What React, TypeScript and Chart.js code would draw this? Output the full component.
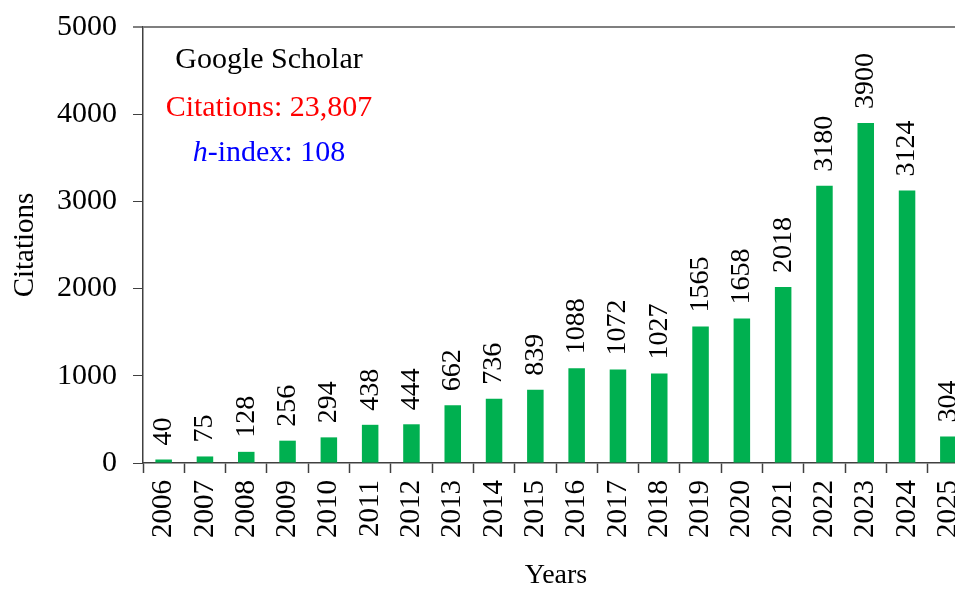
import React, { useEffect, useRef } from "react";
import { Chart, registerables } from "chart.js";

Chart.register(...registerables);

const years = ["2006", "2007", "2008", "2009", "2010", "2011", "2012", "2013", "2014", "2015", "2016", "2017", "2018", "2019", "2020", "2021", "2022", "2023", "2024", "2025"];
const citations = [40, 75, 128, 256, 294, 438, 444, 662, 736, 839, 1088, 1072, 1027, 1565, 1658, 2018, 3180, 3900, 3124, 304];
const yTickValues = [0, 1000, 2000, 3000, 4000, 5000];
const yTitle = "Citations";
const xTitle = "Years";
const noteTitle = "Google Scholar";
const noteCitations = "Citations: 23,807";
const noteHItalic = "h";
const noteHRest = "-index: 108";

const FONT = "'Liberation Serif', 'Times New Roman', serif";
const GREEN = "#00b050";

const overlayPlugin = {
  id: "overlay",
  afterDatasetsDraw(chart: any) {
    const { ctx } = chart;
    const meta = chart.getDatasetMeta(0);
    ctx.save();
    ctx.fillStyle = "#000";
    ctx.font = `28px ${FONT}`;
    meta.data.forEach((bar: any, i: number) => {
      ctx.save();
      ctx.translate(bar.x, bar.y - 14);
      ctx.rotate(-Math.PI / 2);
      ctx.textAlign = "left";
      ctx.textBaseline = "middle";
      ctx.fillText(String(citations[i]), 0, 0);
      ctx.restore();
    });
    ctx.restore();

    const xs = chart.scales.x;
    const ys = chart.scales.y;
    const cx = xs.getPixelForValue(2.55);
    ctx.save();
    ctx.textBaseline = "middle";
    ctx.textAlign = "center";
    ctx.font = `30px ${FONT}`;
    ctx.fillStyle = "#000";
    ctx.fillText(noteTitle, cx, ys.getPixelForValue(4615));
    ctx.fillStyle = "#ff0000";
    ctx.fillText(noteCitations, cx, ys.getPixelForValue(4070));
    const y3 = ys.getPixelForValue(3555);
    ctx.font = `italic 30px ${FONT}`;
    const wH = ctx.measureText(noteHItalic).width;
    ctx.font = `30px ${FONT}`;
    const wR = ctx.measureText(noteHRest).width;
    const start = cx - (wH + wR) / 2;
    ctx.textAlign = "left";
    ctx.fillStyle = "#0000ff";
    ctx.font = `italic 30px ${FONT}`;
    ctx.fillText(noteHItalic, start, y3);
    ctx.font = `30px ${FONT}`;
    ctx.fillText(noteHRest, start + wH, y3);
    ctx.restore();
  },
};

export default function App() {
  const ref = useRef<HTMLCanvasElement>(null);
  useEffect(() => {
    if (!ref.current) return;
    const chart = new Chart(ref.current, {
      type: "bar",
      data: {
        labels: years,
        datasets: [
          {
            data: citations,
            backgroundColor: GREEN,
            categoryPercentage: 0.8,
            barPercentage: 0.5,
          },
        ],
      },
      options: {
        animation: false,
        responsive: true,
        maintainAspectRatio: false,
        layout: { padding: { left: 0, top: 27, right: 21, bottom: 0 } },
        plugins: {
          legend: { display: false },
          tooltip: { enabled: false },
        },
        scales: {
          x: {
            grid: {
              offset: true,
              drawOnChartArea: false,
              tickLength: 10,
              tickColor: "#404040",
              tickWidth: 1.5,
            },
            border: { color: "#404040", width: 1.5 },
            ticks: {
              color: "#000",
              font: { family: FONT, size: 29 },
              minRotation: 90,
              maxRotation: 90,
              padding: 7,
              autoSkip: false,
            },
            title: {
              display: true,
              text: xTitle,
              color: "#000",
              font: { family: FONT, size: 28, lineHeight: 1.0 },
              padding: { top: 0, bottom: 0 },
            },
            afterFit: (s: any) => {
              s.height = 127;
              s.paddingLeft = 0;
              s.paddingRight = 0;
            },
          },
          y: {
            min: 0,
            max: 5000,
            afterBuildTicks: (s: any) => {
              s.ticks = yTickValues.map((v) => ({ value: v }));
            },
            grid: {
              drawOnChartArea: true,
              color: (c: any) => (c.tick && c.tick.value === 5000 ? "#7f7f7f" : "rgba(0,0,0,0)"),
              lineWidth: (c: any) => (c.tick && c.tick.value === 5000 ? 2 : 1),
              tickLength: 10,
              tickColor: (c: any) => (c.tick && c.tick.value === 5000 ? "#7f7f7f" : "#404040"),
            },
            border: { color: "#404040", width: 1.5 },
            ticks: {
              color: "#000",
              font: { family: FONT, size: 30 },
              padding: 16,
              callback: (v: any) => String(v),
            },
            title: {
              display: true,
              text: yTitle,
              color: "#000",
              font: { family: FONT, size: 29, lineHeight: 1.2 },
              padding: { top: 8, bottom: 0 },
            },
            afterFit: (s: any) => {
              s.width = 143;
              s.paddingTop = 0;
              s.paddingBottom = 0;
            },
          },
        },
      },
      plugins: [overlayPlugin],
    });
    return () => chart.destroy();
  }, []);

  return (
    <div style={{ position: "fixed", left: 0, top: 0, width: 955, height: 590, overflow: "hidden", background: "#fff" }}>
      <div style={{ position: "relative", width: 990, height: 590 }}>
        <canvas ref={ref} />
      </div>
    </div>
  );
}
